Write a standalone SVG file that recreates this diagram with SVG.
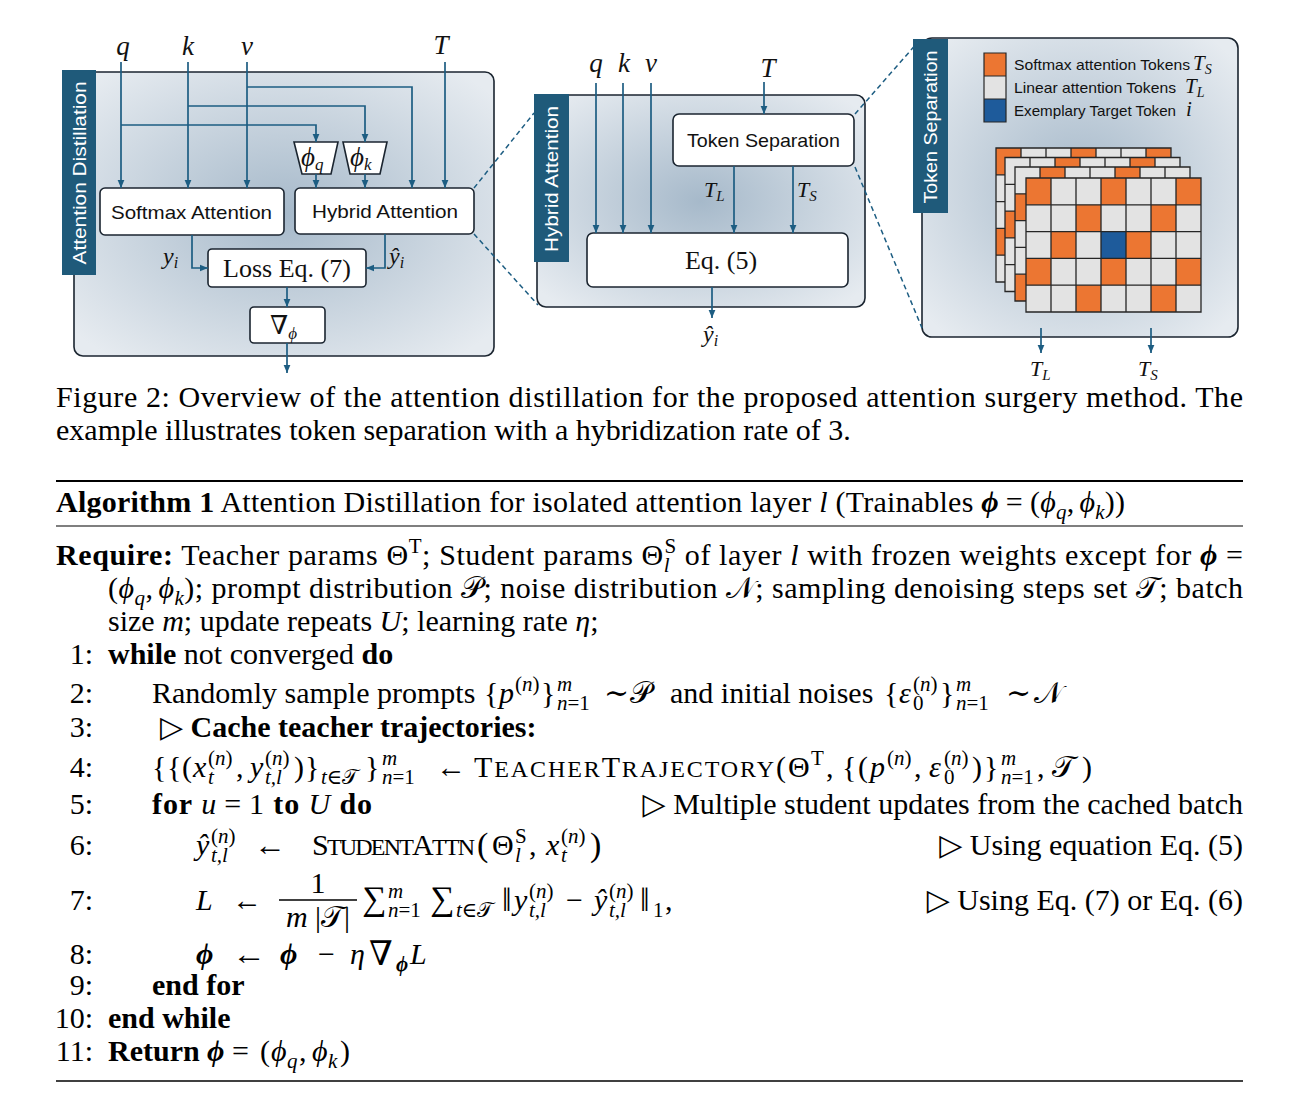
<svg xmlns="http://www.w3.org/2000/svg" width="1301" height="1111" viewBox="0 0 1301 1111">
<defs>
<radialGradient id="pg" cx="50%" cy="50%" r="65%">
<stop offset="0" stop-color="#a6b9ca"/>
<stop offset="1" stop-color="#e6ebf0"/>
</radialGradient>
<marker id="ah" viewBox="0 0 10 10" refX="10" refY="5" markerWidth="8" markerHeight="8" markerUnits="userSpaceOnUse" orient="auto"><path d="M0,0.8 L10,5 L0,9.2 Z" fill="#1d5d82"/></marker>
<rect id="gbg" width="175" height="134" fill="#e3e3e3"/>
<path id="grid" d="M0 0H175V134H0Z M25 0V134M50 0V134M75 0V134M100 0V134M125 0V134M150 0V134 M0 26.8H175M0 53.6H175M0 80.4H175M0 107.2H175" fill="none" stroke="#262626" stroke-width="1.3"/>
<g id="ph0" fill="#ec7632">
<rect x="0" y="0" width="25" height="26.8"/><rect x="75" y="0" width="25" height="26.8"/><rect x="150" y="0" width="25" height="26.8"/>
<rect x="50" y="26.8" width="25" height="26.8"/><rect x="125" y="26.8" width="25" height="26.8"/>
<rect x="25" y="53.6" width="25" height="26.8"/><rect x="100" y="53.6" width="25" height="26.8"/>
<rect x="0" y="80.4" width="25" height="26.8"/><rect x="75" y="80.4" width="25" height="26.8"/><rect x="150" y="80.4" width="25" height="26.8"/>
<rect x="50" y="107.2" width="25" height="26.8"/><rect x="125" y="107.2" width="25" height="26.8"/>
</g>
<g id="ph1" fill="#ec7632">
<rect x="25" y="0" width="25" height="26.8"/><rect x="100" y="0" width="25" height="26.8"/>
<rect x="0" y="26.8" width="25" height="26.8"/><rect x="75" y="26.8" width="25" height="26.8"/><rect x="150" y="26.8" width="25" height="26.8"/>
<rect x="50" y="53.6" width="25" height="26.8"/><rect x="125" y="53.6" width="25" height="26.8"/>
<rect x="25" y="80.4" width="25" height="26.8"/><rect x="100" y="80.4" width="25" height="26.8"/>
<rect x="0" y="107.2" width="25" height="26.8"/><rect x="75" y="107.2" width="25" height="26.8"/><rect x="150" y="107.2" width="25" height="26.8"/>
</g>
<g id="ph2" fill="#ec7632">
<rect x="50" y="0" width="25" height="26.8"/><rect x="125" y="0" width="25" height="26.8"/>
<rect x="25" y="26.8" width="25" height="26.8"/><rect x="100" y="26.8" width="25" height="26.8"/>
<rect x="0" y="53.6" width="25" height="26.8"/><rect x="75" y="53.6" width="25" height="26.8"/><rect x="150" y="53.6" width="25" height="26.8"/>
<rect x="50" y="80.4" width="25" height="26.8"/><rect x="125" y="80.4" width="25" height="26.8"/>
<rect x="25" y="107.2" width="25" height="26.8"/><rect x="100" y="107.2" width="25" height="26.8"/>
</g>
</defs>
<style>
.sans{font-family:"Liberation Sans","Noto Sans",Arial,sans-serif}
.serif{font-family:"Liberation Serif","DejaVu Serif","Times New Roman",serif}
.lbl{font-size:18.5px;fill:#111}
.tabt{font-size:19px;fill:#fff}
.m{font-family:"Liberation Serif","DejaVu Serif",serif;font-style:italic;fill:#111}
.tx{font-size:30px;fill:#000}
.s{font-size:21px}
.sc{font-size:24px}
.big{font-size:34px}
.b{font-weight:bold}
.i{font-style:italic}
.box{fill:#fff;stroke:#1b2530;stroke-width:1.6}
.panel{fill:url(#pg);stroke:#1b2530;stroke-width:1.6}
.tab{fill:#1f5a7a}
.ar{fill:none;stroke:#1d5d82;stroke-width:1.7;marker-end:url(#ah)}
.dash{fill:none;stroke:#1d5d82;stroke-width:1.5;stroke-dasharray:5 3.5}
.rule{stroke:#000}
</style>

<!-- Left panel: Attention Distillation -->
<g id="panel-attention-distillation">
<rect class="panel" x="74" y="72" width="420" height="284" rx="9"/>
<rect class="tab" x="62" y="70" width="34" height="205"/>
<text class="sans tabt" transform="translate(86,173) rotate(-90)" text-anchor="middle" textLength="183" lengthAdjust="spacingAndGlyphs">Attention Distillation</text>
</g>
<g id="node-softmax-attention">
<rect class="box" x="100" y="188" width="184" height="47" rx="5"/>
<text class="sans lbl" x="111" y="219" textLength="161" lengthAdjust="spacingAndGlyphs">Softmax Attention</text>
</g>
<g id="node-hybrid-attention">
<rect class="box" x="295" y="188" width="179" height="46" rx="5"/>
<text class="sans lbl" x="312" y="218" textLength="146" lengthAdjust="spacingAndGlyphs">Hybrid Attention</text>
</g>
<g id="node-phi-q">
<polygon class="box" points="294,142 338,142 331,174 302,174"/>
<text class="m" x="301" y="166" font-size="27">ϕ<tspan font-size="17" dy="4">q</tspan></text>
</g>
<g id="node-phi-k">
<polygon class="box" points="343,142 387,142 380,174 350,174"/>
<text class="m" x="350" y="166" font-size="27">ϕ<tspan font-size="17" dy="4">k</tspan></text>
</g>
<g id="node-loss">
<rect class="box" x="208" y="249" width="158" height="38" rx="4"/>
<text class="serif" x="287" y="277" font-size="26" text-anchor="middle" fill="#111">Loss Eq. (7)</text>
</g>
<g id="node-grad">
<rect class="box" x="250" y="307" width="75" height="36" rx="4"/>
<text class="serif" x="270" y="334" font-size="26" fill="#111">∇<tspan class="i" font-size="17" dy="5">ϕ</tspan></text>
</g>
<g id="labels-left">
<text class="m" x="123" y="55" font-size="27" text-anchor="middle">q</text>
<text class="m" x="188" y="55" font-size="27" text-anchor="middle">k</text>
<text class="m" x="247" y="55" font-size="27" text-anchor="middle">v</text>
<text class="m" x="441" y="54" font-size="27" text-anchor="middle">T</text>
<text class="m" x="163" y="264" font-size="24">y<tspan font-size="16" dy="4">i</tspan></text>
<text class="m" x="389" y="264" font-size="24">ŷ<tspan font-size="16" dy="4">i</tspan></text>
</g>

<!-- Middle panel: Hybrid Attention -->
<g id="panel-hybrid-attention">
<rect class="panel" x="537" y="95" width="328" height="212" rx="9"/>
<rect class="tab" x="534" y="94" width="35" height="168"/>
<text class="sans tabt" transform="translate(558,179) rotate(-90)" text-anchor="middle" textLength="146" lengthAdjust="spacingAndGlyphs">Hybrid Attention</text>
</g>
<g id="node-token-separation">
<rect class="box" x="673" y="114" width="181" height="52" rx="6"/>
<text class="sans lbl" x="687" y="147" textLength="153" lengthAdjust="spacingAndGlyphs">Token Separation</text>
</g>
<g id="node-eq5">
<rect class="box" x="587" y="233" width="261" height="54" rx="6"/>
<text class="serif" x="721" y="269" font-size="26" text-anchor="middle" fill="#111">Eq. (5)</text>
</g>
<g id="labels-middle">
<text class="m" x="596" y="72" font-size="27" text-anchor="middle">q</text>
<text class="m" x="624" y="72" font-size="27" text-anchor="middle">k</text>
<text class="m" x="651" y="72" font-size="27" text-anchor="middle">v</text>
<text class="m" x="768" y="77" font-size="27" text-anchor="middle">T</text>
<text class="m" x="704" y="197" font-size="22">T<tspan font-size="15" dy="4">L</tspan></text>
<text class="m" x="797" y="197" font-size="22">T<tspan font-size="15" dy="4">S</tspan></text>
<text class="m" x="703" y="342" font-size="24">ŷ<tspan font-size="16" dy="4">i</tspan></text>
</g>

<!-- Right panel: Token Separation -->
<g id="panel-token-separation">
<rect class="panel" x="922" y="38" width="316" height="299" rx="10"/>
<rect class="tab" x="913" y="39" width="35" height="174"/>
<text class="sans tabt" transform="translate(937,127) rotate(-90)" text-anchor="middle" textLength="153" lengthAdjust="spacingAndGlyphs">Token Separation</text>
</g>
<g id="legend">
<rect x="984" y="53" width="22" height="23" fill="#ec7632"/>
<rect x="984" y="76" width="22" height="23" fill="#e3e3e3"/>
<rect x="984" y="99" width="22" height="23" fill="#1e5b9b"/>
<path d="M984 53H1006V122H984Z M984 76H1006 M984 99H1006" fill="none" stroke="#262626" stroke-width="1.2"/>
<text class="sans" x="1014" y="70" font-size="14.5" fill="#111" textLength="176" lengthAdjust="spacingAndGlyphs">Softmax attention Tokens</text>
<text class="m" x="1193" y="70" font-size="21">T<tspan font-size="14" dy="4">S</tspan></text>
<text class="sans" x="1014" y="93" font-size="14.5" fill="#111" textLength="162" lengthAdjust="spacingAndGlyphs">Linear attention Tokens</text>
<text class="m" x="1185" y="93" font-size="21">T<tspan font-size="14" dy="4">L</tspan></text>
<text class="sans" x="1014" y="116" font-size="14.5" fill="#111" textLength="162" lengthAdjust="spacingAndGlyphs">Exemplary Target Token</text>
<text class="m" x="1186" y="116" font-size="21">i</text>
</g>
<g id="token-grid">
<g transform="translate(996,148)"><use href="#gbg"/><use href="#ph0"/><use href="#grid"/></g>
<g transform="translate(1005,157.5)"><use href="#gbg"/><use href="#ph2"/><use href="#grid"/></g>
<g transform="translate(1015,167)"><use href="#gbg"/><use href="#ph1"/><use href="#grid"/></g>
<g transform="translate(1026,178)"><use href="#gbg"/><use href="#ph0"/><rect x="75" y="53.6" width="25" height="26.8" fill="#1e5b9b"/><use href="#grid"/></g>
</g>
<g id="labels-right">
<text class="m" x="1030" y="376" font-size="22">T<tspan font-size="15" dy="4">L</tspan></text>
<text class="m" x="1138" y="376" font-size="22">T<tspan font-size="15" dy="4">S</tspan></text>
</g>

<!-- Connectors -->
<g id="connectors">
<path class="ar" d="M121 62V188"/>
<path class="ar" d="M188 62V188"/>
<path class="ar" d="M247 62V188"/>
<path class="ar" d="M445 62V188"/>
<path class="ar" d="M247 87H412V188"/>
<path class="ar" d="M188 106H365V142"/>
<path class="ar" d="M121 125H316V142"/>
<path class="ar" d="M316 174V188"/>
<path class="ar" d="M365 174V188"/>
<path class="ar" d="M192 235V268H208"/>
<path class="ar" d="M385 234V268H366"/>
<path class="ar" d="M287 287V307"/>
<path class="ar" d="M287 343V373"/>
<path class="ar" d="M596 83V233"/>
<path class="ar" d="M623 83V233"/>
<path class="ar" d="M651 83V233"/>
<path class="ar" d="M764 82V114"/>
<path class="ar" d="M734 166V233"/>
<path class="ar" d="M793 166V233"/>
<path class="ar" d="M712 287V318"/>
<path class="ar" d="M1041 328V353"/>
<path class="ar" d="M1151 328V353"/>
<path class="dash" d="M474 188L534 113"/>
<path class="dash" d="M474 234L538 305"/>
<path class="dash" d="M855 114L918 42"/>
<path class="dash" d="M855 167L922 328"/>
</g>

<!-- Caption -->
<g id="caption">
<text class="serif tx" x="56" y="407" textLength="1187" lengthAdjust="spacing">Figure 2:  Overview of the attention distillation for the proposed attention surgery method.  The</text>
<text class="serif tx" x="56" y="440">example illustrates token separation with a hybridization rate of 3.</text>
</g>

<!-- Algorithm -->
<g id="algorithm">
<line class="rule" x1="56" y1="481" x2="1243" y2="481" stroke-width="2.2"/>
<text class="serif tx" x="56" y="512" textLength="1069" lengthAdjust="spacing"><tspan class="b">Algorithm 1</tspan> Attention Distillation for isolated attention layer <tspan class="i">l</tspan> (Trainables <tspan class="b i">ϕ</tspan><tspan dx="7">=</tspan><tspan dx="7">(</tspan><tspan class="i">ϕ</tspan><tspan class="s i" dy="7">q</tspan><tspan dy="-7">,</tspan><tspan class="i" dx="5">ϕ</tspan><tspan class="s i" dy="7">k</tspan><tspan dy="-7">))</tspan></text>
<line class="rule" x1="56" y1="526" x2="1243" y2="526" stroke-width="1.2"/>

<text class="serif tx" x="56" y="565" textLength="1187" lengthAdjust="spacing"><tspan class="b">Require:</tspan>  Teacher params Θ<tspan class="s" dy="-12">T</tspan><tspan dy="12">; Student params Θ</tspan><tspan class="s i" dy="7">l</tspan><tspan class="s" dx="-5.8" dy="-19">S</tspan><tspan dy="12"> of layer </tspan><tspan class="i">l</tspan> with frozen weights except for <tspan class="b i">ϕ</tspan> =</text>
<text class="serif tx" x="108" y="598" textLength="1135" lengthAdjust="spacing">(<tspan class="i">ϕ</tspan><tspan class="s i" dy="7">q</tspan><tspan dy="-7">,</tspan><tspan class="i" dx="5">ϕ</tspan><tspan class="s i" dy="7">k</tspan><tspan dy="-7">); prompt distribution 𝒫; noise distribution 𝒩; sampling denoising steps set 𝒯; batch</tspan></text>
<text class="serif tx" x="108" y="631">size <tspan class="i">m</tspan>; update repeats <tspan class="i">U</tspan>; learning rate <tspan class="i">η</tspan>;</text>

<g text-anchor="end">
<text class="serif tx" x="93" y="664">1:</text>
<text class="serif tx" x="93" y="703">2:</text>
<text class="serif tx" x="93" y="737">3:</text>
<text class="serif tx" x="93" y="777">4:</text>
<text class="serif tx" x="93" y="814">5:</text>
<text class="serif tx" x="93" y="855">6:</text>
<text class="serif tx" x="93" y="910">7:</text>
<text class="serif tx" x="93" y="964">8:</text>
<text class="serif tx" x="93" y="995">9:</text>
<text class="serif tx" x="93" y="1028">10:</text>
<text class="serif tx" x="93" y="1061">11:</text>
</g>

<text class="serif tx" x="108" y="664"><tspan class="b">while</tspan> not converged <tspan class="b">do</tspan></text>

<text class="serif tx"><tspan x="152" y="703">Randomly sample prompts</tspan><tspan x="484" y="703">{</tspan><tspan class="i" x="499" y="703">p</tspan><tspan class="s" x="515" y="691">(<tspan class="i">n</tspan>)</tspan><tspan x="541" y="703">}</tspan><tspan class="s i" x="557" y="691">m</tspan><tspan class="s" x="557" y="710"><tspan class="i">n</tspan>=1</tspan><tspan x="604" y="703">∼</tspan><tspan x="630" y="703">𝒫</tspan><tspan x="670" y="703">and initial noises</tspan><tspan x="884" y="703">{</tspan><tspan class="i" x="899" y="703">ε</tspan><tspan class="s" x="913" y="710">0</tspan><tspan class="s" x="913" y="691">(<tspan class="i">n</tspan>)</tspan><tspan x="940" y="703">}</tspan><tspan class="s i" x="956" y="691">m</tspan><tspan class="s" x="956" y="710"><tspan class="i">n</tspan>=1</tspan><tspan x="1006" y="703">∼</tspan><tspan x="1034" y="703">𝒩</tspan></text>

<text class="serif tx" x="160" y="737">▷ <tspan class="b">Cache teacher trajectories:</tspan></text>

<text class="serif tx"><tspan x="152" y="777">{</tspan><tspan x="167" y="777">{</tspan><tspan x="182" y="777">(</tspan><tspan class="i" x="193" y="777">x</tspan><tspan class="s i" x="208" y="784">t</tspan><tspan class="s" x="208" y="765">(<tspan class="i">n</tspan>)</tspan><tspan x="236" y="777">,</tspan><tspan class="i" x="250" y="777">y</tspan><tspan class="s i" x="265" y="784">t,l</tspan><tspan class="s" x="265" y="765">(<tspan class="i">n</tspan>)</tspan><tspan x="294" y="777">)</tspan><tspan x="305" y="777">}</tspan><tspan class="s" x="321" y="784"><tspan class="i">t</tspan>∈𝒯</tspan><tspan x="365" y="777">}</tspan><tspan class="s i" x="382" y="765">m</tspan><tspan class="s" x="382" y="784"><tspan class="i">n</tspan>=1</tspan></text>
<text class="serif tx" x="436" y="777" textLength="30" lengthAdjust="spacingAndGlyphs">←</text>
<text class="serif tx" x="474" y="777" textLength="300" lengthAdjust="spacing">T<tspan class="sc">EACHER</tspan>T<tspan class="sc">RAJECTORY</tspan></text>
<text class="serif tx"><tspan x="776" y="777">(</tspan><tspan x="788" y="777">Θ</tspan><tspan class="s" x="811" y="765">T</tspan><tspan x="826" y="777">,</tspan><tspan x="842" y="777">{</tspan><tspan x="858" y="777">(</tspan><tspan class="i" x="870" y="777">p</tspan><tspan class="s" x="887" y="765">(<tspan class="i">n</tspan>)</tspan><tspan x="914" y="777">,</tspan><tspan class="i" x="929" y="777">ε</tspan><tspan class="s" x="944" y="784">0</tspan><tspan class="s" x="944" y="765">(<tspan class="i">n</tspan>)</tspan><tspan x="972" y="777">)</tspan><tspan x="984" y="777">}</tspan><tspan class="s i" x="1001" y="765">m</tspan><tspan class="s" x="1001" y="784"><tspan class="i">n</tspan>=1</tspan><tspan x="1037" y="777">,</tspan><tspan x="1052" y="777">𝒯</tspan><tspan x="1082" y="777">)</tspan></text>

<text class="serif tx" x="152" y="814" textLength="220" lengthAdjust="spacing"><tspan class="b">for</tspan> <tspan class="i">u</tspan><tspan dx="7">=</tspan><tspan dx="7">1</tspan> <tspan class="b">to</tspan> <tspan class="i">U</tspan> <tspan class="b">do</tspan></text>
<text class="serif tx" x="1243" y="814" text-anchor="end">▷ Multiple student updates from the cached batch</text>

<text class="serif tx"><tspan class="i" x="196" y="855">ŷ</tspan><tspan class="s i" x="211" y="862">t,l</tspan><tspan class="s" x="211" y="843">(<tspan class="i">n</tspan>)</tspan></text>
<text class="serif tx" x="254" y="855" textLength="32" lengthAdjust="spacingAndGlyphs">←</text>
<text class="serif tx" x="312" y="855" textLength="163" lengthAdjust="spacing">S<tspan class="sc">TUDENT</tspan>A<tspan class="sc">TTN</tspan></text>
<text class="serif tx"><tspan class="big" x="477" y="856">(</tspan><tspan x="492" y="855">Θ</tspan><tspan class="s i" x="515" y="862">l</tspan><tspan class="s" x="515" y="843">S</tspan><tspan x="529" y="855">,</tspan><tspan class="i" x="546" y="855">x</tspan><tspan class="s i" x="561" y="862">t</tspan><tspan class="s" x="561" y="843">(<tspan class="i">n</tspan>)</tspan><tspan class="big" x="590" y="856">)</tspan></text>
<text class="serif tx" x="1243" y="855" text-anchor="end">▷ Using equation Eq. (5)</text>

<text class="serif tx" x="196" y="910"><tspan class="i">L</tspan></text>
<text class="serif tx" x="232" y="910" textLength="30" lengthAdjust="spacingAndGlyphs">←</text>
<text class="serif tx" x="318" y="893" text-anchor="middle">1</text>
<line x1="279" y1="900" x2="357" y2="900" stroke="#000" stroke-width="1.3"/>
<text class="serif tx" x="318" y="927" text-anchor="middle"><tspan class="i">m</tspan> |𝒯|</text>
<text class="serif tx"><tspan class="big" x="362" y="910">∑</tspan><tspan class="s i" x="388" y="898">m</tspan><tspan class="s" x="388" y="917"><tspan class="i">n</tspan>=1</tspan><tspan class="big" x="430" y="910">∑</tspan><tspan class="s" x="456" y="917"><tspan class="i">t</tspan>∈𝒯</tspan><tspan class="big" x="502" y="911">‖</tspan><tspan class="i" x="514" y="910">y</tspan><tspan class="s i" x="529" y="917">t,l</tspan><tspan class="s" x="529" y="898">(<tspan class="i">n</tspan>)</tspan><tspan x="566" y="910">−</tspan><tspan class="i" x="594" y="910">ŷ</tspan><tspan class="s i" x="609" y="917">t,l</tspan><tspan class="s" x="609" y="898">(<tspan class="i">n</tspan>)</tspan><tspan class="big" x="640" y="911">‖</tspan><tspan class="s" x="653" y="917">1</tspan><tspan x="665" y="910">,</tspan></text>
<text class="serif tx" x="1243" y="910" text-anchor="end">▷ Using Eq. (7) or Eq. (6)</text>

<text class="serif tx"><tspan class="b i" x="196" y="964">ϕ</tspan><tspan class="b i" x="280" y="964">ϕ</tspan><tspan x="318" y="964">−</tspan><tspan class="i" x="350" y="964">η</tspan><tspan class="big" x="369" y="965">∇</tspan><tspan class="s b i" x="396" y="971">ϕ</tspan><tspan class="i" x="410" y="964">L</tspan></text>
<text class="serif tx" x="232" y="964" textLength="34" lengthAdjust="spacingAndGlyphs">←</text>
<text class="serif tx" x="152" y="995"><tspan class="b">end for</tspan></text>
<text class="serif tx" x="108" y="1028"><tspan class="b">end while</tspan></text>
<text class="serif tx"><tspan class="b" x="108" y="1061">Return</tspan><tspan class="b i" x="207" y="1061">ϕ</tspan><tspan x="232" y="1061">=</tspan><tspan x="260" y="1061">(</tspan><tspan class="i" x="271" y="1061">ϕ</tspan><tspan class="s i" x="287" y="1068">q</tspan><tspan x="299" y="1061">,</tspan><tspan class="i" x="312" y="1061">ϕ</tspan><tspan class="s i" x="328" y="1068">k</tspan><tspan x="340" y="1061">)</tspan></text>
<line class="rule" x1="56" y1="1081" x2="1243" y2="1081" stroke-width="1.5"/>
</g>
</svg>
